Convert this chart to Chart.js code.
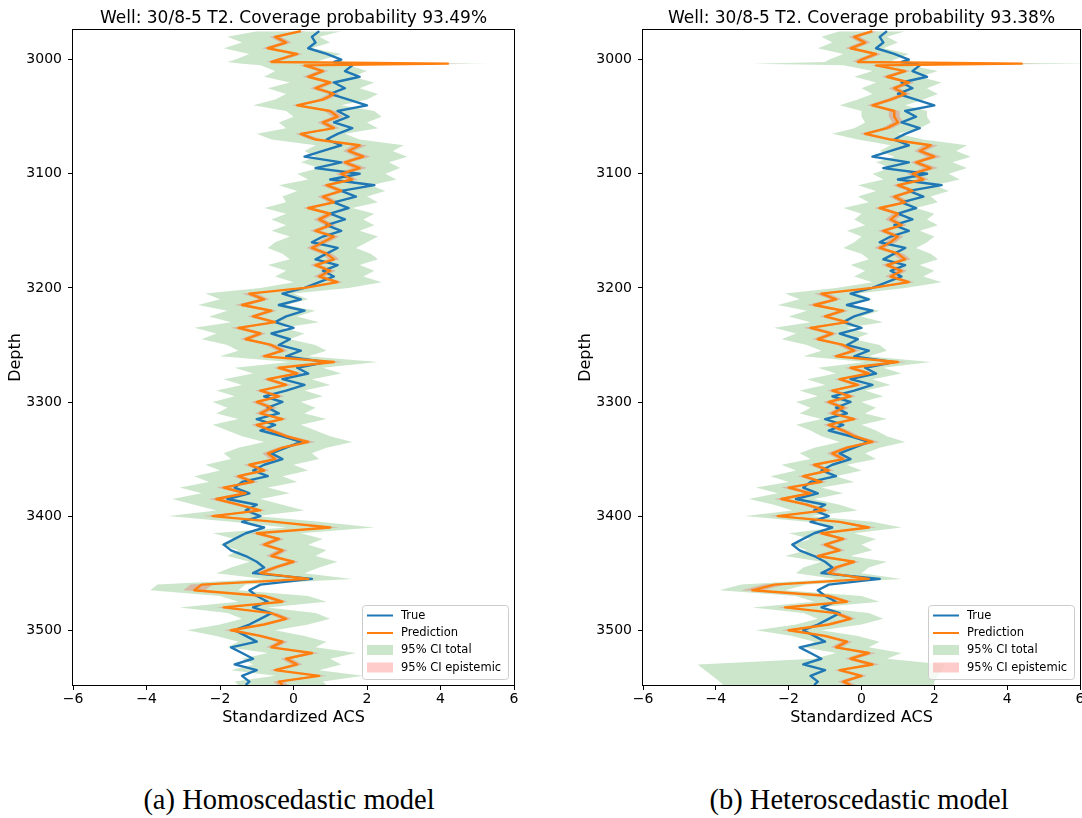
<!DOCTYPE html>
<html>
<head>
<meta charset="utf-8">
<script src="https://cdn.jsdelivr.net/npm/chart.js@4.4.0/dist/chart.umd.min.js"></script>
<style>
html,body{margin:0;padding:0;background:#fff;width:1082px;height:818px;overflow:hidden;position:relative;}
#wa{position:absolute;left:0;top:0;}
#wb{position:absolute;left:570px;top:0;}
.cap{position:absolute;top:786px;font-family:'Liberation Serif','DejaVu Serif',serif;font-size:28.5px;line-height:28px;color:#000;white-space:nowrap;transform:translateX(-50%);}
</style>
</head>
<body>
<canvas id="wa" width="540" height="740"></canvas>
<canvas id="wb" width="520" height="740"></canvas>
<div class="cap" style="left:289px">(a) Homoscedastic model</div>
<div class="cap" style="left:859px">(b) Heteroscedastic model</div>
<script>
// ---------- data (depth in m, values in standardized ACS) ----------
const depth = [2975,2980,2985,2990,2995,3000,3002,3003.5,
3005,3010,3015,3020,3025,3030,3035,3040,3045,3050,
3055,3060,3065,3070,3075,3080,3085,3090,3095,3100,
3105,3110,3115,3120,3125,3130,3135,3140,3145,3150,
3155,3160,3165,3170,3175,3180,3185,3190,3195,3200,
3205,3210,3215,3220,3225,3230,3235,3240,3245,3250,
3255,3260,3265,3270,3275,3280,3285,3290,3295,3300,
3305,3310,3315,3320,3325,3330,3335,3340,3345,3350,
3355,3360,3365,3370,3375,3380,3385,3390,3395,3400,
3405,3410,3415,3420,3425,3430,3435,3440,3445,3450,
3455,3460,3465,3470,3475,3480,3485,3490,3495,3500,
3505,3510,3515,3520,3525,3530,3535,3540,3545,3548];

const trueVals = [0.7,0.5,0.6,0.4,0.9,1.3,1.1,1.5,
1.6,1.4,1.8,1.1,1.4,1.0,1.5,2.0,1.2,1.5,
1.1,1.6,1.2,0.9,1.3,0.8,0.3,1.3,0.6,1.8,
1.0,2.2,1.3,1.7,1.1,1.5,1.0,1.4,0.9,1.3,
0.8,0.5,1.2,0.9,0.6,1.2,0.8,1.1,0.7,0.3,
-0.3,0.2,-0.4,0.3,-0.2,-0.5,0.0,-0.6,-0.1,-0.4,
0.2,-0.2,0.9,0.1,0.4,-0.3,0.3,-0.2,-0.8,-0.3,
-0.7,-0.4,-1.0,-0.5,-0.9,-0.3,0.2,-0.2,-0.6,-0.3,
-0.8,-1.1,-0.7,-1.4,-1.6,-1.2,-1.8,-1.0,-1.3,-0.9,
-1.4,-0.8,-1.3,-1.6,-1.9,-1.7,-1.3,-1.0,-0.8,-1.1,
0.5,-0.9,-1.2,-1.0,-0.7,-1.1,-0.6,-0.9,-1.2,-1.6,
-1.3,-1.0,-1.7,-1.4,-1.1,-1.6,-1.0,-1.4,-1.2,-1.3];

// (a) homoscedastic model
const predA = [0.2,-0.5,-0.2,-0.7,0.1,-0.4,-0.6,4.2,
0.3,0.8,0.4,1.0,0.6,1.1,0.8,0.1,1.0,1.2,
0.8,1.1,0.2,0.6,1.8,1.5,1.9,1.4,1.8,1.3,
1.6,0.9,1.3,0.8,1.1,0.4,1.0,0.7,1.0,0.6,
1.1,0.8,0.5,0.9,1.1,0.6,1.0,0.7,1.2,0.3,
-1.2,-0.8,-1.4,-0.6,-1.1,-0.5,-1.5,-0.9,-1.3,-0.6,
-0.3,-0.8,1.1,-0.4,0.1,-0.7,-0.2,-0.9,-0.4,-1.0,
-0.6,-0.9,-0.3,-1.0,-0.6,-0.2,0.4,-0.3,-0.7,-0.5,
-1.2,-0.8,-1.5,-1.1,-1.9,-1.3,-2.1,-1.5,-0.9,-2.2,
-0.5,1.0,-1.0,-0.4,-0.8,-0.3,-0.6,0.0,-0.5,-0.9,
0.4,-2.5,-2.7,-0.8,-0.3,-1.9,-0.6,-0.2,-0.8,-1.7,
-0.9,-0.3,-0.6,0.5,-0.2,0.1,-0.5,0.7,-0.4,-0.3];

const totLoA = [-1.0,-1.8,-1.4,-1.9,-1.2,-1.6,-1.8,-1.4,
-0.9,-0.5,-0.8,-0.1,-0.7,-0.2,-0.5,-1.1,-0.2,0.0,
-0.4,-0.2,-1.0,-0.6,0.6,0.3,0.6,0.2,0.7,0.1,
0.4,-0.4,0.1,-0.3,-0.2,-0.8,-0.2,-0.6,-0.2,-0.6,
-0.1,-0.5,-0.7,-0.3,-0.1,-0.7,-0.2,-0.5,0.0,-0.9,
-2.4,-2.0,-2.6,-1.8,-2.3,-1.7,-2.7,-2.1,-2.5,-1.8,
-1.5,-2.0,-0.1,-1.6,-1.1,-1.9,-1.4,-2.1,-1.6,-2.2,
-1.8,-2.1,-1.5,-2.2,-1.8,-1.4,-0.8,-1.5,-1.9,-1.7,
-2.4,-2.0,-2.7,-2.3,-3.1,-2.5,-3.3,-2.7,-2.1,-3.4,
-1.7,-0.2,-2.2,-1.6,-2.0,-1.5,-1.8,-1.2,-1.7,-2.1,
-0.8,-3.7,-3.9,-2.0,-1.5,-3.1,-1.8,-1.4,-2.0,-2.9,
-2.1,-1.5,-1.8,-0.7,-1.4,-1.1,-1.7,-0.5,-1.6,-1.5];

const totHiA = [1.3,0.7,1.0,0.5,1.3,0.8,0.6,5.3,
1.5,2.0,1.6,2.2,1.8,2.3,2.0,1.3,2.2,2.4,
2.0,2.3,1.4,1.8,3.0,2.7,3.1,2.6,2.9,2.5,
2.8,2.1,2.5,2.0,2.3,1.6,2.2,1.9,2.2,1.8,
2.3,2.0,1.7,2.1,2.3,1.8,2.2,1.9,2.4,1.5,
0.0,0.4,-0.2,0.6,0.1,0.7,-0.3,0.3,-0.1,0.6,
0.9,0.4,2.3,0.8,1.3,0.5,1.0,0.3,0.8,0.2,
0.6,0.3,0.9,0.2,0.6,1.0,1.6,0.9,0.5,0.7,
0.0,0.4,-0.3,0.1,-0.7,-0.1,-0.9,-0.3,0.3,-1.0,
0.7,2.2,0.2,0.8,0.4,0.9,0.6,1.2,0.7,0.3,
1.6,-1.3,-1.5,0.4,0.9,-0.7,0.6,1.0,0.4,-0.5,
0.3,0.9,0.6,1.7,1.0,1.3,0.7,1.9,0.8,0.9];

const epiLoA = [0.05,-0.65,-0.35,-0.85,-0.05,-0.55,-0.75,3.7,
0.15,0.65,0.25,0.85,0.45,0.95,0.65,-0.05,0.85,1.05,
0.65,0.95,0.05,0.45,1.6,1.35,1.7,1.25,1.6,1.15,
1.45,0.75,1.15,0.65,0.95,0.25,0.85,0.55,0.85,0.45,
0.95,0.65,0.35,0.75,0.95,0.45,0.85,0.55,1.05,0.15,
-1.4,-0.95,-1.6,-0.75,-1.25,-0.65,-1.7,-1.05,-1.45,-0.75,
-0.45,-0.95,0.85,-0.55,-0.05,-0.85,-0.35,-1.05,-0.55,-1.15,
-0.75,-1.05,-0.45,-1.15,-0.75,-0.35,0.2,-0.45,-0.85,-0.65,
-1.35,-0.95,-1.65,-1.25,-2.1,-1.45,-2.3,-1.65,-1.05,-2.45,
-0.65,0.75,-1.15,-0.55,-0.95,-0.45,-0.75,-0.15,-0.65,-1.05,
0.2,-2.8,-3.0,-0.95,-0.45,-2.1,-0.75,-0.35,-0.95,-1.9,
-1.05,-0.45,-0.75,0.3,-0.35,-0.05,-0.65,0.5,-0.55,-0.45];

const epiHiA = [0.35,-0.35,-0.05,-0.55,0.25,-0.25,-0.45,4.8,
0.45,0.95,0.55,1.15,0.75,1.25,0.95,0.25,1.15,1.35,
0.95,1.25,0.35,0.75,2.0,1.65,2.1,1.55,2.0,1.45,
1.75,1.05,1.45,0.95,1.25,0.55,1.15,0.85,1.15,0.75,
1.25,0.95,0.65,1.05,1.25,0.75,1.15,0.85,1.35,0.45,
-1.0,-0.65,-1.2,-0.45,-0.95,-0.35,-1.3,-0.75,-1.15,-0.45,
-0.15,-0.65,1.35,-0.25,0.25,-0.55,-0.05,-0.75,-0.25,-0.85,
-0.45,-0.75,-0.15,-0.85,-0.45,-0.05,0.6,-0.15,-0.55,-0.35,
-1.05,-0.65,-1.35,-0.95,-1.7,-1.15,-1.9,-1.35,-0.75,-1.95,
-0.35,1.25,-0.85,-0.25,-0.65,-0.15,-0.45,0.15,-0.35,-0.75,
0.6,-2.2,-2.4,-0.65,-0.15,-1.7,-0.45,-0.05,-0.65,-1.5,
-0.75,-0.15,-0.45,0.7,-0.05,0.25,-0.35,0.9,-0.25,-0.15];

// (b) heteroscedastic model
const predB = [0.3,-0.2,0.1,-0.3,0.4,0.0,-0.1,4.4,
0.4,1.2,0.7,1.3,0.9,1.2,0.8,0.3,0.9,0.9,
1.0,0.7,0.1,0.8,1.9,1.6,2.0,1.5,1.9,1.4,
1.7,1.0,1.4,0.9,1.2,0.5,1.0,0.8,1.1,0.6,
1.0,0.8,0.5,1.0,1.2,0.7,1.1,0.8,1.3,0.3,
-1.1,-0.7,-1.3,-0.5,-1.0,-0.4,-1.4,-0.8,-1.2,-0.5,
-0.2,-0.7,1.0,-0.3,0.2,-0.6,-0.1,-0.8,-0.3,-0.9,
-0.5,-0.8,-0.2,-0.9,-0.5,-0.2,0.3,-0.4,-0.8,-0.5,
-1.3,-0.9,-1.6,-1.1,-2.0,-1.4,-2.2,-1.5,-1.0,-2.3,
-0.6,0.2,-1.1,-0.5,-1.0,-0.6,-1.2,-0.2,-0.7,-0.9,
0.2,-2.4,-3.0,-0.9,-0.4,-2.1,-0.7,-0.3,-0.9,-2.0,
-1.0,-0.4,-0.7,0.2,-0.3,0.3,-0.6,0.0,-0.5,-0.3];

const totLoB = [-0.6,-1.1,-0.8,-1.2,-0.5,-0.9,-1.0,-3.0,
-0.5,0.3,-0.2,0.4,0.0,0.3,-0.1,-0.6,0.0,0.0,
0.1,-0.2,-0.8,-0.1,0.8,0.5,0.9,0.4,0.8,0.3,
0.6,-0.1,0.4,-0.1,0.2,-0.5,0.0,-0.2,0.1,-0.4,
0.0,-0.2,-0.5,0.0,0.2,-0.3,0.1,-0.2,0.3,-0.7,
-2.1,-1.7,-2.3,-1.5,-2.0,-1.4,-2.4,-1.8,-2.2,-1.5,
-1.1,-1.6,0.1,-1.2,-0.7,-1.5,-1.0,-1.7,-1.2,-1.8,
-1.4,-1.7,-1.1,-1.8,-1.4,-1.1,-0.6,-1.3,-1.7,-1.4,
-2.2,-1.8,-2.5,-2.0,-2.9,-2.3,-3.1,-2.4,-1.9,-3.2,
-1.5,-0.7,-2.0,-1.4,-1.9,-1.5,-2.1,-1.1,-1.6,-1.8,
-0.7,-3.3,-3.9,-1.8,-1.3,-3.0,-1.6,-1.2,-1.8,-2.9,
-1.9,-1.3,-1.6,-0.7,-1.3,-4.5,-4.3,-4.1,-3.9,-3.8];

const totHiB = [1.2,0.7,1.0,0.6,1.3,0.9,0.8,6.5,
1.3,2.1,1.6,2.2,1.8,2.1,1.7,1.2,1.8,1.8,
1.9,1.6,1.0,1.7,2.9,2.6,3.0,2.5,2.9,2.4,
2.7,2.0,2.4,1.9,2.1,1.5,2.0,1.8,2.1,1.6,
2.0,1.8,1.5,1.9,2.1,1.6,2.0,1.7,2.2,1.2,
-0.1,0.3,-0.3,0.5,0.0,0.6,-0.4,0.2,-0.2,0.5,
0.7,0.2,1.9,0.6,1.1,0.3,0.8,0.1,0.6,0.0,
0.4,0.1,0.7,0.0,0.4,0.7,1.2,0.5,0.1,0.4,
-0.4,0.0,-0.7,-0.2,-1.1,-0.5,-1.3,-0.6,-0.1,-1.4,
0.3,1.1,-0.2,0.4,0.0,0.3,-0.3,0.7,0.2,0.0,
1.1,-1.5,-2.1,0.0,0.5,-1.2,0.2,0.6,0.0,-1.1,
-0.1,0.5,0.2,1.1,0.7,2.3,2.2,2.1,2.0,2.0];

const epiLoB = [0.15,-0.35,-0.05,-0.45,0.25,-0.15,-0.25,3.9,
0.25,1.05,0.55,1.15,0.75,1.05,0.65,0.15,0.75,0.75,
0.85,0.55,-0.05,0.65,1.7,1.45,1.8,1.35,1.7,1.25,
1.55,0.85,1.25,0.75,1.05,0.35,0.85,0.65,0.95,0.45,
0.85,0.65,0.35,0.85,1.05,0.55,0.95,0.65,1.15,0.15,
-1.3,-0.85,-1.5,-0.65,-1.15,-0.55,-1.6,-0.95,-1.35,-0.65,
-0.35,-0.85,0.75,-0.45,0.05,-0.75,-0.25,-0.95,-0.45,-1.05,
-0.65,-0.95,-0.35,-1.05,-0.65,-0.35,0.1,-0.55,-0.95,-0.65,
-1.45,-1.05,-1.75,-1.25,-2.2,-1.55,-2.4,-1.65,-1.15,-2.55,
-0.75,0.0,-1.25,-0.65,-1.15,-0.75,-1.35,-0.35,-0.85,-1.05,
0.0,-2.7,-3.3,-1.05,-0.55,-2.3,-0.85,-0.45,-1.05,-2.2,
-1.15,-0.55,-0.85,0.0,-0.45,0.1,-0.75,-0.15,-0.65,-0.45];

const epiHiB = [0.45,-0.05,0.25,-0.15,0.55,0.15,0.05,5.0,
0.55,1.35,0.85,1.45,1.05,1.35,0.95,0.45,1.05,1.05,
1.15,0.85,0.25,0.95,2.1,1.75,2.2,1.65,2.1,1.55,
1.85,1.15,1.55,1.05,1.35,0.65,1.15,0.95,1.25,0.75,
1.15,0.95,0.65,1.15,1.35,0.85,1.25,0.95,1.45,0.45,
-0.9,-0.55,-1.1,-0.35,-0.85,-0.25,-1.2,-0.65,-1.05,-0.35,
-0.05,-0.55,1.25,-0.15,0.35,-0.45,0.05,-0.65,-0.15,-0.75,
-0.35,-0.65,-0.05,-0.75,-0.35,-0.05,0.5,-0.25,-0.65,-0.35,
-1.15,-0.75,-1.45,-0.95,-1.8,-1.25,-2.0,-1.35,-0.85,-2.05,
-0.45,0.4,-0.95,-0.35,-0.85,-0.45,-1.05,-0.05,-0.55,-0.75,
0.4,-2.1,-2.7,-0.75,-0.25,-1.9,-0.55,-0.15,-0.75,-1.8,
-0.85,-0.25,-0.55,0.4,-0.15,0.5,-0.45,0.15,-0.35,-0.15];

const depthTicks = [3000,3100,3200,3300,3400,3500];
const xTicks = [-6,-4,-2,0,2,4,6];
const titles = ['Well: 30/8-5 T2. Coverage probability 93.49%','Well: 30/8-5 T2. Coverage probability 93.38%'];
const legendLabels = ['True','Prediction','95% CI total','95% CI epistemic'];

// ---------- styling ----------
const C_TRUE = '#1f77b4', C_PRED = '#ff7f0e';
const C_TOT = 'rgba(0,128,0,0.2)', C_EPI = 'rgba(255,0,0,0.2)';
const FONT = "'DejaVu Sans', sans-serif";

const pts = vals => depth.map((d, i) => ({x: vals[i], y: d}));

const framePlugin = {
  id: 'frame',
  afterDraw(chart) {
    const a = chart.chartArea, ctx = chart.ctx;
    ctx.save();
    // axes title, centred over the plotting area
    ctx.fillStyle = '#000';
    ctx.font = "17px " + FONT;
    ctx.textAlign = 'center';
    ctx.textBaseline = 'alphabetic';
    ctx.fillText(chart.options.plugins.mplTitle.text, (a.left + a.right) / 2, 23);
    ctx.textAlign = 'left';
    // frame (all four spines)
    ctx.strokeStyle = '#000';
    ctx.lineWidth = 1;
    ctx.strokeRect(Math.round(a.left) - 0.5, Math.round(a.top) - 0.5,
                   Math.round(a.right - a.left) + 1, Math.round(a.bottom - a.top) + 1);
    // legend (matplotlib-like, lower right inside axes)
    const w = 146, h = 74;
    const x0 = a.right - 6 - w, y0 = a.bottom - 6 - h;
    ctx.beginPath();
    if (ctx.roundRect) ctx.roundRect(x0 + 0.5, y0 + 0.5, w, h, 3); else ctx.rect(x0 + 0.5, y0 + 0.5, w, h);
    ctx.fillStyle = 'rgba(255,255,255,0.8)';
    ctx.fill();
    ctx.strokeStyle = '#cccccc';
    ctx.stroke();
    const rows = [y0 + 10.5, y0 + 28, y0 + 45, y0 + 62.5];
    ctx.font = "11.5px " + FONT;
    ctx.textBaseline = 'middle';
    const kinds = [['line', C_TRUE], ['line', C_PRED], ['patch', C_TOT], ['patch', C_EPI]];
    kinds.forEach((k, i) => {
      const y = rows[i];
      if (k[0] === 'line') {
        ctx.strokeStyle = k[1]; ctx.lineWidth = 2;
        ctx.beginPath(); ctx.moveTo(x0 + 5, y); ctx.lineTo(x0 + 31, y); ctx.stroke();
      } else {
        ctx.fillStyle = k[1];
        ctx.fillRect(x0 + 5, y - 5, 26, 10);
      }
      ctx.fillStyle = '#000';
      ctx.fillText(legendLabels[i], x0 + 39, y + 0.5);
    });
    ctx.restore();
  }
};

function makeChart(id, title, pred, totLo, totHi, epiLo, epiHi, padRight) {
  const band = (vals, fill, color) => ({
    data: pts(vals), fill: fill, backgroundColor: color,
    borderColor: 'rgba(0,0,0,0)', borderWidth: 0, pointRadius: 0, tension: 0
  });
  const line = (vals, color) => ({
    data: pts(vals), fill: false, borderColor: color, backgroundColor: color,
    borderWidth: 2.4, pointRadius: 0, tension: 0, borderJoinStyle: 'round'
  });
  return new Chart(document.getElementById(id), {
    type: 'line',
    data: {
      datasets: [
        line(pred, C_PRED),            // 0 drawn last (top)
        line(trueVals, C_TRUE),        // 1
        band(epiHi, '+1', C_EPI),      // 2
        band(epiLo, false, C_EPI),     // 3
        band(totHi, '+1', C_TOT),      // 4
        band(totLo, false, C_TOT)      // 5 drawn first
      ]
    },
    options: {
      indexAxis: 'y',
      responsive: false,
      animation: false,
      events: [],
      layout: {padding: {left: 0, right: padRight, top: 30, bottom: 0}},
      plugins: {
        legend: {display: false},
        tooltip: {enabled: false},
        title: {display: false},
        mplTitle: {text: title}
      },
      scales: {
        x: {
          type: 'linear', min: -6, max: 6,
          afterBuildTicks: s => { s.ticks = xTicks.map(v => ({value: v})); },
          ticks: {color: '#000', font: {family: FONT, size: 14}, padding: 1,
                  callback: v => (v < 0 ? '\u2212' + Math.abs(v) : String(v))},
          grid: {drawOnChartArea: false, drawTicks: true, tickLength: 5, tickColor: '#000'},
          border: {display: false},
          title: {display: true, text: 'Standardized ACS', color: '#000',
                  font: {family: FONT, size: 16}, padding: {top: 2, bottom: 13}},
          afterFit: s => { s.height = 55; }
        },
        y: {
          type: 'linear', reverse: true, min: 2974, max: 3548,
          afterBuildTicks: s => { s.ticks = depthTicks.map(v => ({value: v})); },
          ticks: {color: '#000', font: {family: FONT, size: 14}, padding: 6,
                  callback: v => String(v)},
          grid: {drawOnChartArea: false, drawTicks: true, tickLength: 5, tickColor: '#000'},
          border: {display: false},
          title: {display: true, text: 'Depth', color: '#000',
                  font: {family: FONT, size: 16}, padding: {top: 6, bottom: 0}},
          afterFit: s => { s.width = 73; }
        }
      }
    },
    plugins: [framePlugin]
  });
}

makeChart('wa', titles[0], predA, totLoA, totHiA, epiLoA, epiHiA, 26);
makeChart('wb', titles[1], predB, totLoB, totHiB, epiLoB, epiHiB, 10);
</script>
</body>
</html>
